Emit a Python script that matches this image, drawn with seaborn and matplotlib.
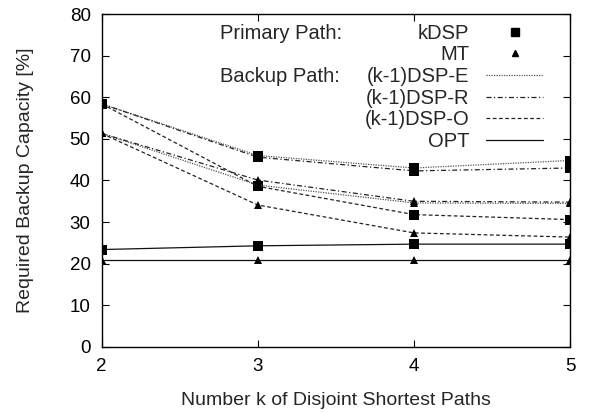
import pandas as pd
import matplotlib.pyplot as plt
import seaborn as sns

# Dados
k_vals = [2, 3, 4, 5]

kdsp_e = [58.4, 46.0, 43.0, 44.8]
kdsp_r = [58.4, 45.6, 42.3, 43.0]
kdsp_o = [58.4, 38.6, 31.8, 30.6]
kdsp_opt = [23.4, 24.3, 24.7, 24.7]

mt_e = [51.3, 38.9, 34.6, 34.5]
mt_r = [51.3, 40.1, 35.0, 34.8]
mt_o = [51.3, 34.1, 27.4, 26.4]
mt_opt = [21.0, 21.0, 21.0, 21.0]

backup_names = ["(k-1)DSP-E", "(k-1)DSP-R", "(k-1)DSP-O", "OPT"]

sns.set_style("ticks")
plt.rcParams["font.family"] = ["Liberation Sans", "DejaVu Sans"]

fig = plt.figure(figsize=(5.95, 4.13), dpi=100)
ax = fig.add_axes([0.171, 0.160, 0.787, 0.806])

estilos = {
    "(k-1)DSP-E": ((0, (1, 1)), "#555555"),
    "(k-1)DSP-R": ((0, (4, 2, 1, 2)), "#222222"),
    "(k-1)DSP-O": ((0, (3, 2)), "#222222"),
    "OPT": ("-", "#111111"),
}

series = {
    ("kDSP", "(k-1)DSP-E"): kdsp_e,
    ("kDSP", "(k-1)DSP-R"): kdsp_r,
    ("kDSP", "(k-1)DSP-O"): kdsp_o,
    ("kDSP", "OPT"): kdsp_opt,
    ("MT", "(k-1)DSP-E"): mt_e,
    ("MT", "(k-1)DSP-R"): mt_r,
    ("MT", "(k-1)DSP-O"): mt_o,
    ("MT", "OPT"): mt_opt,
}

for (prim, back), vals in series.items():
    df = pd.DataFrame({"k": k_vals, "cap": vals})
    ls, cor = estilos[back]
    sns.lineplot(data=df, x="k", y="cap", ax=ax, color=cor, linestyle=ls,
                 linewidth=0.9, marker="s" if prim == "kDSP" else "^",
                 markersize=6.5 if prim == "kDSP" else 6,
                 markerfacecolor="black", markeredgecolor="black",
                 markeredgewidth=0, legend=False)

ax.set_xlim(2, 5)
ax.set_ylim(0, 80)
ax.set_xticks(k_vals)
ax.set_yticks(range(0, 81, 10))
ax.tick_params(direction="in", length=5, width=0.8, labelsize=13.5,
               top=True, right=True, colors="black")
ax.tick_params(axis="x", pad=8)
ax.tick_params(axis="y", pad=8)
for s in ax.spines.values():
    s.set_linewidth(1.0)
    s.set_color("black")
ax.set_xlabel("Number k of Disjoint Shortest Paths", fontsize=14, labelpad=12)
ax.set_ylabel("Required Backup Capacity [%]", fontsize=14, labelpad=26)

# Legenda no estilo gnuplot
handles = [
    plt.Line2D([], [], color="black", marker="s", linestyle="none", markersize=6),
    plt.Line2D([], [], color="black", marker="^", linestyle="none", markersize=5),
]
for b in backup_names:
    ls, cor = estilos[b]
    handles.append(plt.Line2D([], [], color=cor, linestyle=ls, linewidth=0.9))
labels = ["kDSP", "MT"] + backup_names
leg = ax.legend(handles, labels, loc="upper right", bbox_to_anchor=(0.942, 0.971),
                frameon=False, markerfirst=False, handlelength=2.8,
                handletextpad=0.85, labelspacing=0.13, borderpad=0,
                borderaxespad=0, fontsize=14.5, numpoints=1)

ax.text(0.252, 0.926, "Primary Path:", transform=ax.transAxes, fontsize=14.5, va="baseline")
ax.text(0.252, 0.795, "Backup Path:", transform=ax.transAxes, fontsize=14.5, va="baseline")

plt.savefig("out.png", dpi=100)
